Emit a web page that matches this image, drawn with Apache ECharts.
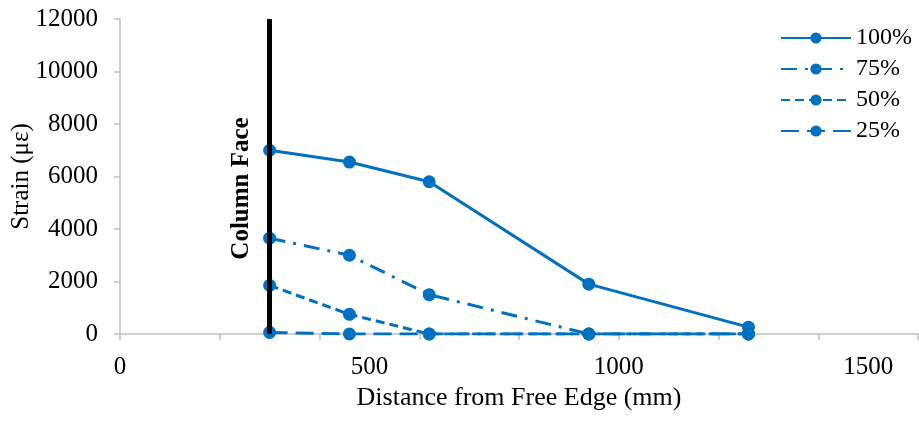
<!DOCTYPE html>
<html>
<head>
<meta charset="utf-8">
<script src="https://cdn.jsdelivr.net/npm/echarts@6/dist/echarts.min.js"></script>
<style>html,body{margin:0;padding:0;background:#fff;}#c{width:919px;height:421px;}</style>
</head>
<body>
<div id="c"></div>
<script>
const distances = [300, 460, 620, 940, 1260];
const s100 = [7000, 6550, 5800, 1900, 260];
const s75 = [3650, 3000, 1500, 0, 0];
const s50 = [1850, 750, 0, 0, 0];
const s25 = [60, 0, 0, 0, 0];
const seriesNames = ['100%', '75%', '50%', '25%'];
const columnFaceX = 300;
const xLabels = [0, 500, 1000, 1500];

const font = 'Liberation Serif';
const blue = '#0070C0';
const axisGray = '#BFBFBF';

function pts(vals) { return distances.map((d, i) => [d, vals[i]]); }

const dashes = ['solid', [16, 8, 3, 8], [9, 5], [18, 8]];
const allVals = [s100, s75, s50, s25];

const series = seriesNames.map((n, i) => ({
  name: n,
  type: 'line',
  data: pts(allVals[i]),
  symbol: 'circle',
  symbolSize: 13,
  itemStyle: { color: blue },
  lineStyle: { color: blue, width: 3, type: dashes[i] },
  z: 5 - i
}));
series[0].markLine = {
  silent: true,
  symbol: 'none',
  z: 10,
  lineStyle: { color: '#000', width: 5, type: 'solid' },
  label: {
    show: true,
    formatter: 'Column Face',
    position: 'middle',
    distance: 16,
    padding: [0, 24, 0, 0],
    fontFamily: font,
    fontWeight: 'bold',
    fontSize: 25,
    color: '#000'
  },
  data: [{ xAxis: columnFaceX }]
};

const chart = echarts.init(document.getElementById('c'), null, { renderer: 'canvas' });
chart.setOption({
  animation: false,
  backgroundColor: '#fff',
  grid: { left: 120, right: 1, top: 19, bottom: 87, containLabel: false, outerBoundsMode: 'none' },
  legend: {
    orient: 'vertical',
    left: 775,
    top: 21,
    itemWidth: 70,
    itemHeight: 14,
    itemGap: 7,
    data: seriesNames,
    textStyle: { fontFamily: font, fontSize: 24, lineHeight: 24, color: '#000' }
  },
  xAxis: [{
    type: 'value',
    min: 0, max: 1600, interval: 200,
    name: 'Distance from Free Edge (mm)',
    nameLocation: 'middle',
    nameGap: 51,
    nameTextStyle: { fontFamily: font, fontSize: 26, color: '#000' },
    axisLine: { show: true, lineStyle: { color: axisGray, width: 1.5 } },
    axisTick: { show: true, length: 6, lineStyle: { color: axisGray, width: 1.5 } },
    axisLabel: { show: false },
    splitLine: { show: false }
  }, {
    type: 'value',
    position: 'bottom',
    min: 0, max: 1600, interval: 500,
    axisLine: { show: false },
    axisTick: { show: false },
    splitLine: { show: false },
    axisLabel: {
      show: true,
      margin: 21,
      fontFamily: font, fontSize: 25, color: '#000',
      formatter: v => xLabels.includes(v) ? String(v) : ''
    }
  }],
  yAxis: {
    type: 'value',
    min: 0, max: 12000, interval: 2000,
    name: 'Strain (με)',
    nameLocation: 'middle',
    nameGap: 86,
    nameMoveOverlap: false,
    nameTextStyle: { fontFamily: font, fontSize: 25, color: '#000' },
    axisLine: { show: true, lineStyle: { color: axisGray, width: 1.5 } },
    axisTick: { show: true, length: 6, lineStyle: { color: axisGray, width: 1.5 } },
    axisLabel: { fontFamily: font, fontSize: 25, color: '#000', margin: 22, formatter: v => String(v) },
    splitLine: { show: false }
  },
  series: series
});
</script>
</body>
</html>
